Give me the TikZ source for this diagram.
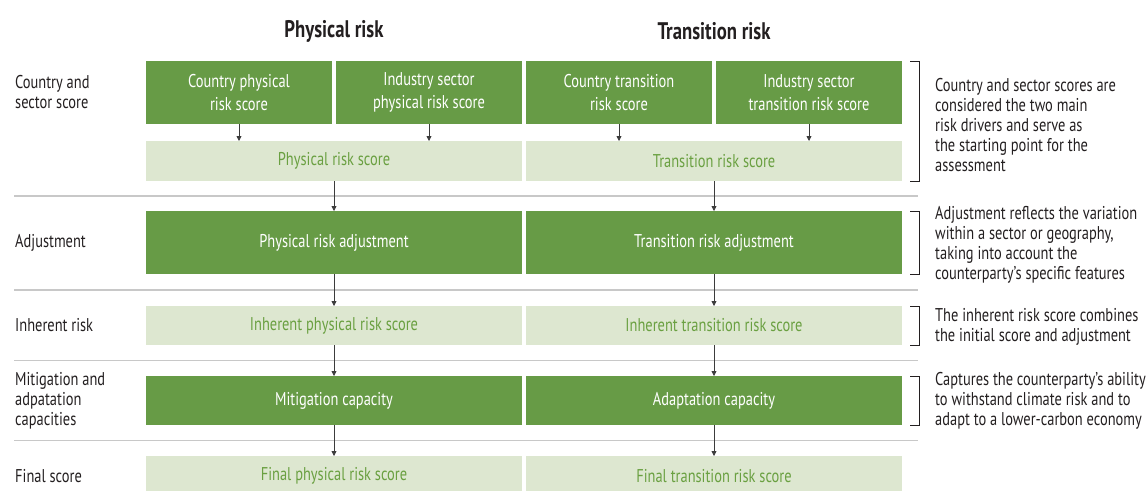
\documentclass[tikz,border=0pt]{standalone}
\usepackage{fontspec}
\setmainfont{PT Sans}[FakeStretch=0.78]
\usetikzlibrary{positioning,arrows.meta}

\definecolor{boxgreen}{RGB}{103,155,70}
\definecolor{lightfill}{RGB}{221,231,208}
\definecolor{lighttext}{RGB}{106,160,65}
\definecolor{textdark}{RGB}{35,31,32}
\definecolor{sepgray}{RGB}{200,200,200}
\definecolor{arrowgray}{RGB}{60,60,60}

\tikzstyle{dark} = [rectangle, minimum height=63pt, inner sep=0pt, outer sep=0pt, fill=boxgreen, text=white, align=center, font=\fontsize{18.5}{23}\selectfont]
\tikzstyle{small} = [dark, minimum width=186pt]
\tikzstyle{wide} = [minimum width=376pt]
\tikzstyle{light} = [rectangle, minimum width=376pt, minimum height=40pt, inner sep=0pt, outer sep=0pt, fill=lightfill, text=lighttext, font=\fontsize{18.5}{23}\selectfont]
\tikzstyle{rowlabel} = [anchor=west, align=left, inner sep=0pt, text=textdark, font=\fontsize{18.5}{20}\selectfont]
\tikzstyle{header} = [text=textdark, font=\bfseries\fontsize{24}{28}\selectfont]
\tikzstyle{arrow} = [line width=0.8pt, draw=arrowgray, -{Triangle[length=5pt, width=5pt]}]
\tikzstyle{sep} = [line width=1.3pt, draw=sepgray]
\tikzstyle{brace} = [line width=1pt, draw=textdark]

\begin{document}
\begin{tikzpicture}[x=1pt, y=-1pt, node distance=31pt]
\useasboundingbox (0,0) rectangle (1146,490);

%headers
\node (HP) [header] at (334,31) {Physical risk};
\node (HT) [header] at (714,31) {Transition risk};

%row 1
\node (CPR) [small] at (239,92.5) {Country physical\\risk score};
\node (IPR) [small, right=4pt of CPR] {Industry sector\\physical risk score};
\node (CTR) [small, right=4pt of IPR] {Country transition\\risk score};
\node (ITR) [small, right=4pt of CTR] {Industry sector\\transition risk score};
\node (PRS) [light] at (334,161) {Physical risk score};
\node (TRS) [light, right=4pt of PRS] {Transition risk score};

%rows 2-5
\node (PRA) [dark, wide, below=30pt of PRS] {Physical risk adjustment};
\node (TRA) [dark, wide, right=4pt of PRA] {Transition risk adjustment};
\node (IPS) [light, minimum height=39pt, below=32pt of PRA] {Inherent physical risk score};
\node (ITS) [light, minimum height=39pt, right=4pt of IPS] {Inherent transition risk score};
\node (MC) [dark, wide, minimum height=49pt, below=of IPS] {Mitigation capacity};
\node (AC) [dark, wide, minimum height=49pt, right=4pt of MC] {Adaptation capacity};
\node (FPS) [light, below=of MC] {Final physical risk score};
\node (FTS) [light, right=4pt of FPS] {Final transition risk score};

%row labels
\node (L1) [rowlabel] at (15,0 |- CPR) {Country and\\sector score};
\node (L2) [rowlabel] at (15,0 |- PRA) {Adjustment};
\node (L3) [rowlabel] at (15,0 |- IPS) {Inherent risk};
\node (L4) [rowlabel] at (15,0 |- MC) {Mitigation and\\adpatation\\capacities};
\node (L5) [rowlabel] at (15,0 |- FPS) {Final score};

%separators
\draw [sep] (14,196) -- (918,196);
\draw [sep] (14,290) -- (918,290);
\draw [sep] (14,360.5) -- (918,360.5);
\draw [sep] (14,440.5) -- (918,440.5);

%arrows
\draw [arrow] (CPR.south) -- (CPR.south |- PRS.north);
\draw [arrow] (IPR.south) -- (IPR.south |- PRS.north);
\draw [arrow] (CTR.south) -- (CTR.south |- TRS.north);
\draw [arrow] (ITR.south) -- (ITR.south |- TRS.north);
\draw [arrow] (PRS) -- (PRA);
\draw [arrow] (TRS) -- (TRA);
\draw [arrow] (PRA) -- (IPS);
\draw [arrow] (TRA) -- (ITS);
\draw [arrow] (IPS) -- (MC);
\draw [arrow] (ITS) -- (AC);
\draw [arrow] (MC) -- (FPS);
\draw [arrow] (AC) -- (FTS);

%brackets
\draw [brace] ([xshift=8pt]ITR.north east) -| ([xshift=17pt]TRS.south east) -- ([xshift=8pt]TRS.south east);
\draw [brace] ([xshift=8pt]TRA.north east) -| ([xshift=17pt]TRA.south east) -- ([xshift=8pt]TRA.south east);
\draw [brace] ([xshift=8pt]ITS.north east) -| ([xshift=17pt]ITS.south east) -- ([xshift=8pt]ITS.south east);
\draw [brace] ([xshift=8pt]AC.north east) -| ([xshift=17pt]AC.south east) -- ([xshift=8pt]AC.south east);

%notes
\node (N1) [rowlabel] at (935,125) {Country and sector scores are\\considered the two main\\risk drivers and serve as\\the starting point for the\\assessment};
\node (N2) [rowlabel] at (935,244.5) {Adjustment reflects the variation\\within a sector or geography,\\taking into account the\\counterparty’s specific features};
\node (N3) [rowlabel] at (935,327) {The inherent risk score combines\\the initial score and adjustment};
\node (N4) [rowlabel] at (935,401) {Captures the counterparty’s ability\\to withstand climate risk and to\\adapt to a lower-carbon economy};

\end{tikzpicture}
\end{document}
